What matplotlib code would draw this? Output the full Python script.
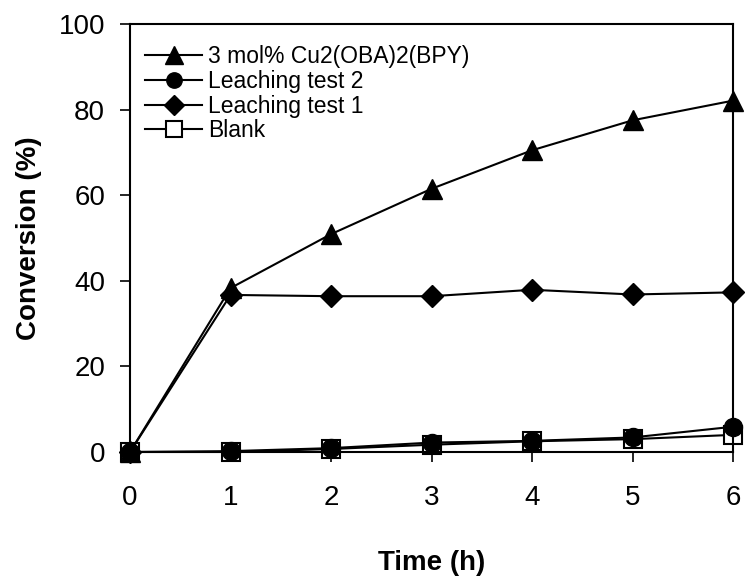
import matplotlib
matplotlib.use("Agg")
import matplotlib.pyplot as plt

plt.rcParams['font.family'] = ['Liberation Sans', 'DejaVu Sans']

time_h = [0, 1, 2, 3, 4, 5, 6]
catalyst = [0, 38.3, 50.9, 61.5, 70.5, 77.5, 82.1]
leaching_2 = [0, 0.2, 0.9, 2.2, 2.6, 3.4, 5.9]
leaching_1 = [0, 36.7, 36.4, 36.4, 37.9, 36.8, 37.3]
blank = [0, 0, 0.7, 1.7, 2.5, 3.0, 4.0]

labels = ["3 mol% Cu2(OBA)2(BPY)", "Leaching test 2", "Leaching test 1", "Blank"]

fig = plt.figure(figsize=(7.45, 5.76), dpi=100)
ax = fig.add_axes([0.1745, 0.2153, 0.8095, 0.7430])

lw = 1.5
ax.plot(time_h, blank, color='black', lw=lw, marker='s', ms=13,
        mfc='white', mec='black', mew=1.5, label=labels[3], zorder=2)
ax.plot(time_h, leaching_1, color='black', lw=lw, marker='D', ms=11.5,
        mfc='black', mec='black', label=labels[2], zorder=3)
ax.plot(time_h, leaching_2, color='black', lw=lw, marker='o', ms=13,
        mfc='black', mec='black', label=labels[1], zorder=4)
ax.plot(time_h, catalyst, color='black', lw=lw, marker='^', ms=15,
        mfc='black', mec='black', label=labels[0], zorder=5)

ax.set_xlim(0, 6)
ax.set_ylim(0, 100)
ax.set_xticks(time_h)
ax.set_yticks([0, 20, 40, 60, 80, 100])
ax.tick_params(axis='both', direction='out', length=7, width=1.2,
               labelsize=20, colors='black')
ax.tick_params(axis='x', pad=17)
ax.tick_params(axis='y', pad=11)
for side in ax.spines.values():
    side.set_linewidth(1.5)
for line in ax.lines:
    line.set_clip_on(False)

ax.set_xlabel("Time (h)", fontsize=20, fontweight='bold', labelpad=28)
ax.set_ylabel("Conversion (%)", fontsize=20, fontweight='bold', labelpad=12)

handles, lbls = ax.get_legend_handles_labels()
order = [3, 2, 1, 0]
leg = ax.legend([handles[i] for i in order], [lbls[i] for i in order],
                loc='upper left', bbox_to_anchor=(0.0, 0.985), frameon=False,
                fontsize=16.5, handlelength=2.5, handletextpad=0.25,
                labelspacing=0.07, borderaxespad=0.25, markerscale=0.85)

fig.savefig("out.png", dpi=100)
